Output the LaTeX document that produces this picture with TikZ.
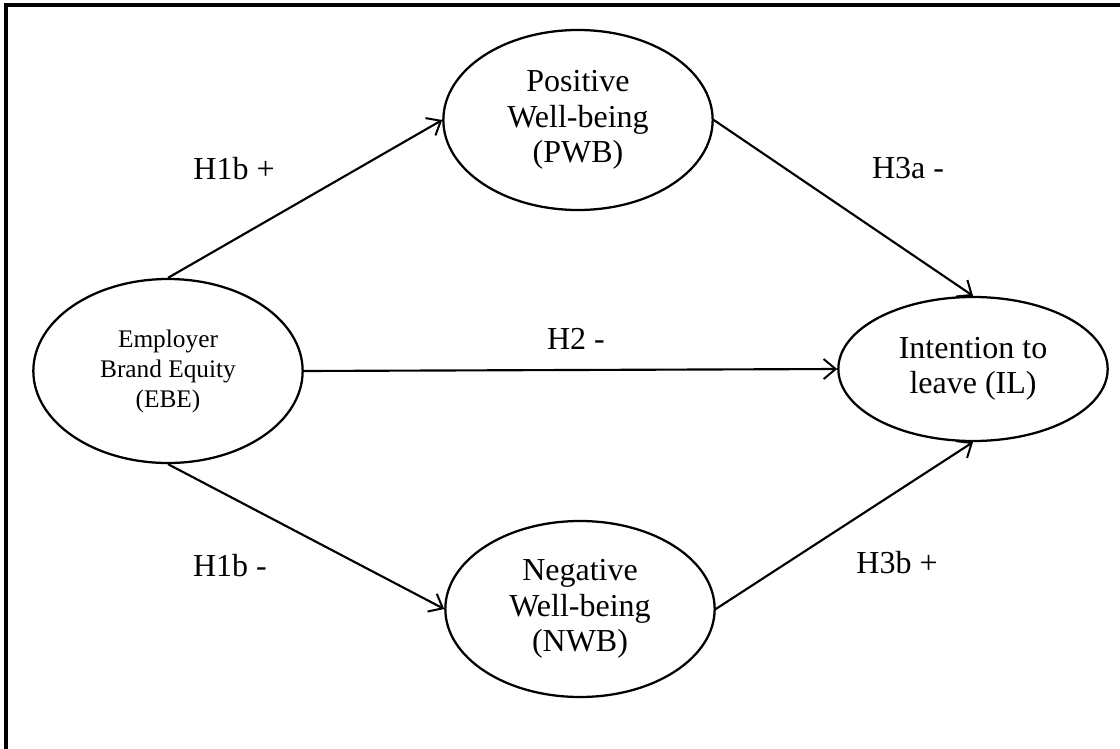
\documentclass[tikz,border=0pt]{standalone}
\usepackage{fontspec}
\setmainfont{Liberation Serif}
\usepackage{tikz}
\usetikzlibrary{arrows.meta, positioning, shapes.geometric}
\tikzset{
  latent/.style={draw, ellipse, line width=1.7pt, inner sep=0pt, align=center,
    minimum width=202pt, font=\fontsize{24}{26.5}\selectfont},
  hyp/.style={font=\fontsize{24}{26.5}\selectfont},
  effect/.style={-{Straight Barb[length=9pt, width=15pt, line width=1.5pt]}, line width=1.6pt},
  frame/.style={line width=2.3pt},
}

\begin{document}
\begin{tikzpicture}[x=0.75pt, y=-0.75pt]
  \useasboundingbox (0,0) rectangle (1120,749);
  \draw[frame] (6,749) -- (6,5) -- (1120,5);

  \node[latent, minimum height=138pt, font=\fontsize{19}{22.5}\selectfont] (ebe) at (168,371) {Employer\\Brand Equity\\(EBE)};
  \node[latent, minimum height=135pt] (pwb) at (578,120) {Positive\\Well-being\\(PWB)};
  \node[latent, minimum height=132pt] (nwb) at (580,609) {Negative\\Well-being\\(NWB)};
  \node[latent, minimum height=108pt] (il) at (973,369) {Intention to\\leave (IL)};

  \draw[effect] (ebe.north) -- (pwb.west);
  \draw[effect] (ebe.east) -- (il.west);
  \draw[effect] (ebe.south) -- (nwb.west);
  \draw[effect] (pwb.east) -- (il.north);
  \draw[effect] (nwb.east) -- (il.south);

  \node[hyp] (h1bp) at (234,169) {H1b +};
  \node[hyp] (h2) at (576,339) {H2 -};
  \node[hyp] (h1bm) at (230,566) {H1b -};
  \node[hyp] (h3a) at (908,168) {H3a -};
  \node[hyp] (h3b) at (897,563) {H3b +};
\end{tikzpicture}
\end{document}
